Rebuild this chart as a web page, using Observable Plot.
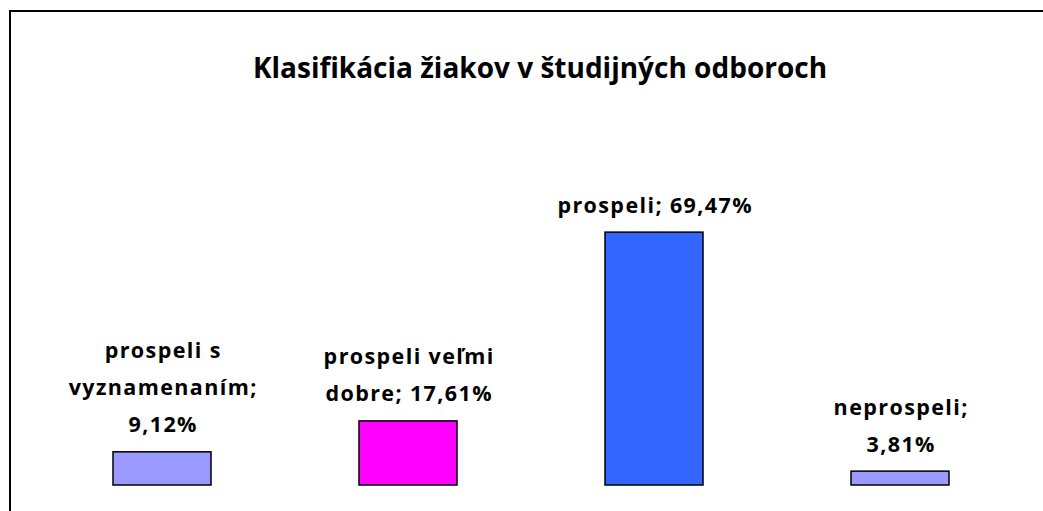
<!DOCTYPE html>
<html>
<head>
<meta charset="utf-8">
<script src="https://cdn.jsdelivr.net/npm/d3@7"></script>
<script src="https://cdn.jsdelivr.net/npm/@observablehq/plot@0.6"></script>
<style>
  html, body { margin: 0; padding: 0; background: #fff; width: 1043px; height: 511px; overflow: hidden; }
  #frame { position: absolute; left: 9px; top: 10px; width: 1200px; height: 700px; border: 2px solid #000; box-sizing: border-box; }
  #title { position: absolute; left: 0; width: 1080px; top: 48px; line-height: 38px; text-align: center; font-family: "Open Sans", sans-serif; font-weight: bold; font-size: 28px; letter-spacing: 0px; color: #000; }
  #chart { position: absolute; left: 0; top: 0; }
  #chart svg text { letter-spacing: 1.4px; }
</style>
</head>
<body>
<div id="frame"></div>
<div id="title">Klasifikácia žiakov v študijných odboroch</div>
<div id="chart"></div>
<script>
const categories = ["prospeli s vyznamenaním", "prospeli veľmi dobre", "prospeli", "neprospeli"];
const values = [9.12, 17.61, 69.47, 3.81];
const labels = ["prospeli s\nvyznamenaním;\n9,12%", "prospeli veľmi\ndobre; 17,61%", "prospeli; 69,47%", "neprospeli;\n3,81%"];
const colors = ["#9999FF", "#FF00FF", "#3366FF", "#9999FF"];

const data = categories.map((c, i) => ({category: c, value: values[i], label: labels[i], color: colors[i]}));

const chart = Plot.plot({
  width: 1043,
  height: 511,
  marginLeft: 39,
  marginRight: 20,
  marginTop: 121,
  marginBottom: 26,
  style: {background: "transparent", fontFamily: "'Open Sans', sans-serif"},
  x: {domain: categories, paddingInner: 0.6, paddingOuter: 0.3, axis: null},
  y: {domain: [0, 100], axis: null},
  marks: [
    Plot.barY(data, {x: "category", y: "value", fill: "color", stroke: "#000", strokeWidth: 1.5}),
    Plot.text(data, {x: "category", y: "value", text: "label", lineAnchor: "bottom", dx: 0.7, dy: -20, lineHeight: 1.72,
      fontSize: 21.5, fontWeight: "bold", fill: "#000"})
  ]
});
document.getElementById("chart").appendChild(chart);
</script>
</body>
</html>
